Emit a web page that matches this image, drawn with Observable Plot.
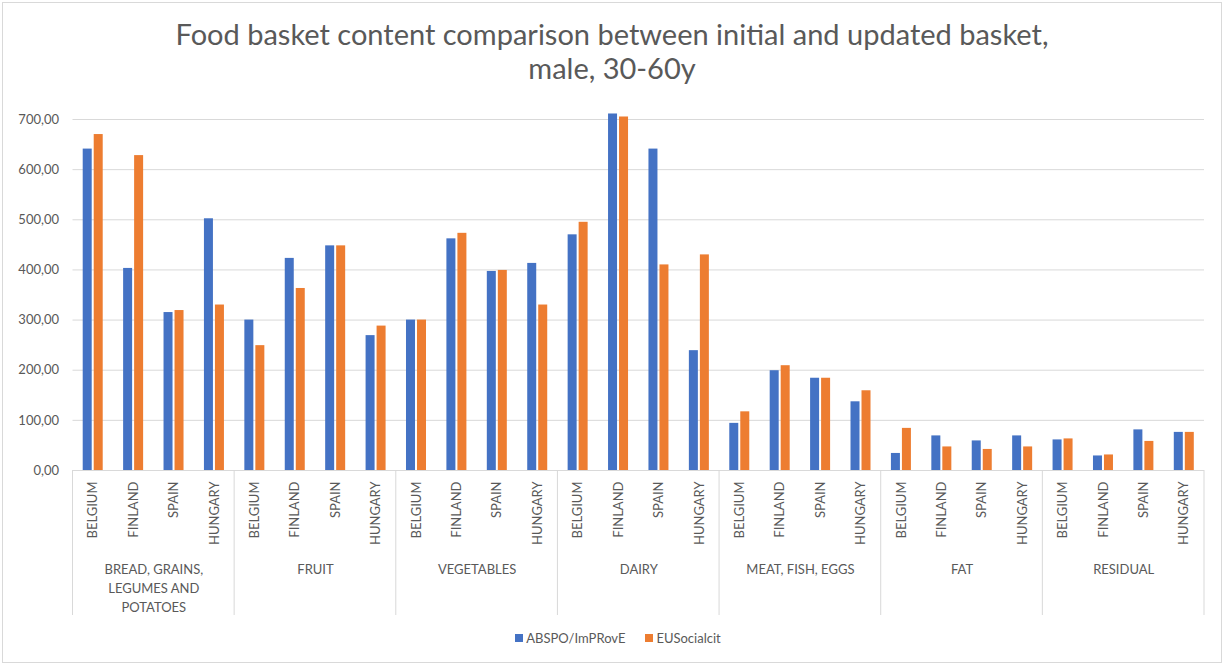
<!DOCTYPE html>
<html>
<head>
<meta charset="utf-8">
<script src="https://cdn.jsdelivr.net/npm/d3@7"></script>
<script src="https://cdn.jsdelivr.net/npm/@observablehq/plot@0.6"></script>
<style>
  body { margin: 0; background: #fff; font-family: Lato, "Open Sans", sans-serif; }
  #wrap { position: relative; width: 1224px; height: 665px; overflow: hidden; background: #fff; }
  #border { position: absolute; left: 2px; top: 2px; width: 1218px; height: 659px; border: 1px solid #d9d9d9; pointer-events: none; }
  #chart { position: absolute; left: 0; top: 0; }
  #title { position: absolute; left: 0; top: 17px; width: 1224px; text-align: center; font-size: 29px; line-height: 34px; color: #595959; }
  #legend { position: absolute; left: 6px; top: 630px; width: 1224px; display: flex; justify-content: center; align-items: center; font-size: 13px; color: #595959; }
  .sw { display: inline-block; width: 8px; height: 8px; margin-right: 3px; }
  .item { display: flex; align-items: center; margin: 0 10px; }
</style>
</head>
<body>
<div id="wrap">
  <div id="chart"></div>
  <div id="title">Food basket content comparison between initial and updated basket,<br>male, 30-60y</div>
  <div id="legend"></div>
  <div id="border"></div>
</div>
<script>
// ---- data ----
const categories = ["BREAD, GRAINS, LEGUMES AND POTATOES", "FRUIT", "VEGETABLES", "DAIRY", "MEAT, FISH, EGGS", "FAT", "RESIDUAL"];
const categoryLabels = ["BREAD, GRAINS,\nLEGUMES AND\nPOTATOES", "FRUIT", "VEGETABLES", "DAIRY", "MEAT, FISH, EGGS", "FAT", "RESIDUAL"];
const countries = ["BELGIUM", "FINLAND", "SPAIN", "HUNGARY"];
const seriesNames = ["ABSPO/ImPRovE", "EUSocialcit"];
const seriesColors = ["#4472C4", "#ED7D31"];
// values in order: category by category, countries BELGIUM, FINLAND, SPAIN, HUNGARY
const abspo = [
  641, 403, 315, 502,   // bread, grains...
  300, 423, 448, 269,   // fruit
  300, 462, 397, 413,   // vegetables
  470, 711, 641, 239,   // dairy
  94, 199, 184, 137,    // meat, fish, eggs
  34, 69, 59, 69,       // fat
  61, 29, 81, 76        // residual
];
const eusocialcit = [
  670, 628, 319, 330,
  249, 363, 448, 288,
  300, 473, 399, 330,
  495, 705, 410, 430,
  117, 209, 184, 159,
  84, 47, 42, 47,
  63, 31, 58, 76
];
const yTicks = [0, 100, 200, 300, 400, 500, 600, 700];

// ---- table ----
const keyOf = (c, k) => c + "|" + k;
const rows = [];
categories.forEach((c, i) => countries.forEach((k, j) => {
  const n = i * countries.length + j;
  rows.push({category: c, country: k, key: keyOf(c, k), a: abspo[n], b: eusocialcit[n]});
}));
const keys = rows.map(d => d.key);
const catRows = categories.map((c, i) => ({key: keyOf(c, countries[1]), label: categoryLabels[i]}));

const W = 1224, H = 665, mL = 72.5, mR = 20, mT = 119, mB = 195;
const bw = (W - mL - mR) / keys.length;
const grey = "#595959", lineGrey = "#d9d9d9";

const separators = (index, scales, values, dims) => {
  const x = scales.x;
  const band = typeof x.bandwidth === "function" ? x.bandwidth() : x.bandwidth;
  const y0 = dims.height - dims.marginBottom;
  const edges = categories.map(c => x(keyOf(c, countries[0])));
  edges.push(x(keyOf(categories[categories.length - 1], countries[countries.length - 1])) + band);
  const g = d3.create("svg:g");
  g.selectAll("line").data(edges).join("line")
    .attr("x1", d => d).attr("x2", d => d)
    .attr("y1", y0).attr("y2", y0 + 145)
    .attr("stroke", lineGrey).attr("stroke-width", 1);
  return g.node();
};

const plot = Plot.plot({
  width: W, height: H,
  marginLeft: mL, marginRight: mR, marginTop: mT, marginBottom: mB,
  style: {fontFamily: "Lato, 'Open Sans', sans-serif", fontSize: "13px", color: grey, background: "transparent"},
  x: {type: "band", domain: keys, padding: 0, round: false, axis: null},
  y: {domain: [0, 700], axis: null},
  marks: [
    Plot.gridY(yTicks, {stroke: lineGrey, strokeOpacity: 1, strokeWidth: 1}),
    Plot.axisY(yTicks, {tickSize: 0, tickPadding: 14, fontSize: 13, fill: grey,
      tickFormat: d => d3.format(".2f")(d).replace(".", ",")}),
    Plot.barY(rows, {x: "key", y: "a", fill: seriesColors[0], insetLeft: bw / 2 - 10, insetRight: bw / 2 + 1}),
    Plot.barY(rows, {x: "key", y: "b", fill: seriesColors[1], insetLeft: bw / 2 + 1, insetRight: bw / 2 - 10}),
    Plot.text(rows, {x: "key", text: "country", frameAnchor: "bottom", rotate: -90, textAnchor: "end",
      lineAnchor: "middle", dy: 11, fontSize: 13, fill: grey}),
    Plot.text(catRows, {x: "key", text: "label", frameAnchor: "bottom", dx: bw / 2, dy: 90,
      lineAnchor: "top", lineHeight: 19 / 13, fontSize: 13, fill: grey}),
    separators
  ]
});
document.getElementById("chart").appendChild(plot);

const legend = document.getElementById("legend");
seriesNames.forEach((s, i) => {
  const item = document.createElement("span");
  item.className = "item";
  const sw = document.createElement("span");
  sw.className = "sw";
  sw.style.background = seriesColors[i];
  item.appendChild(sw);
  item.appendChild(document.createTextNode(s));
  legend.appendChild(item);
});
</script>
</body>
</html>
